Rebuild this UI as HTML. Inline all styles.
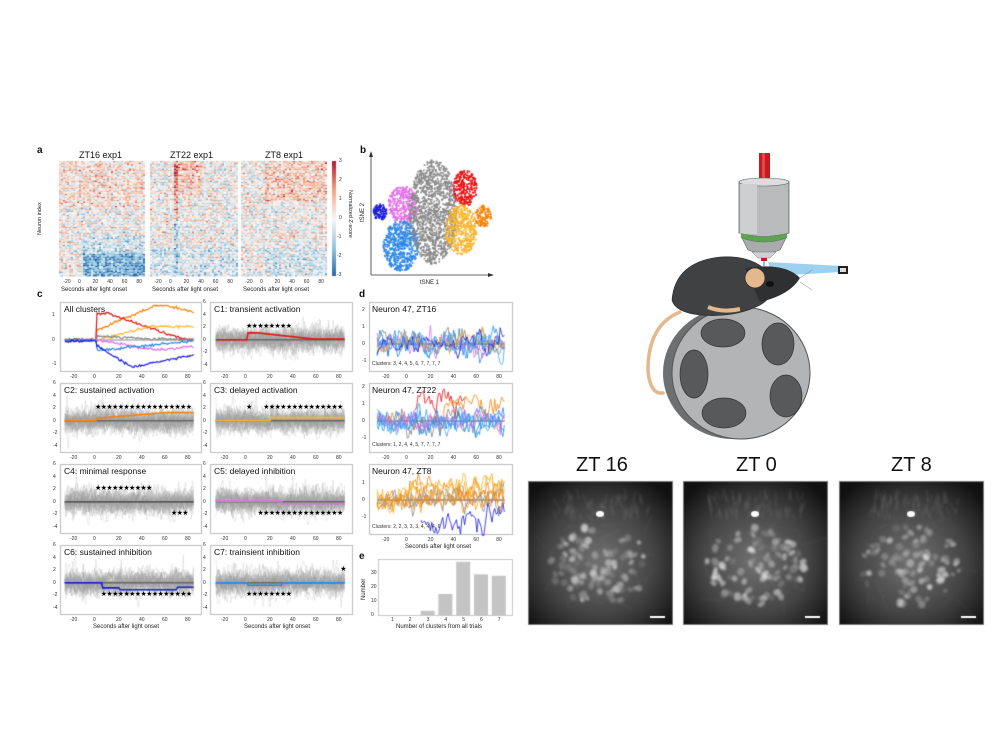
<!DOCTYPE html>
<html><head><meta charset="utf-8">
<style>
html,body{margin:0;padding:0;background:#fff;}
#wrap{position:relative;width:1000px;height:750px;overflow:hidden;font-family:"Liberation Sans",sans-serif;color:#111;}
canvas{position:absolute;left:0;top:0;}
.t{position:absolute;white-space:nowrap;line-height:1;}
.L{font-weight:bold;font-size:10px;}
.pt{font-size:8.5px;}
.tk{font-size:5px;color:#333;}
.xl{font-size:6px;color:#222;}
.zt{font-size:20px;color:#111;}
.st{font-family:"DejaVu Sans",sans-serif;font-size:7px;letter-spacing:-0.6px;color:#000;}
svg{position:absolute;left:0;top:0;}
</style></head><body>
<div id="wrap">
<canvas id="c" width="1000" height="750"></canvas>
<svg width="1000" height="750" viewBox="0 0 1000 750">
 <line x1="371" y1="275" x2="371" y2="155" stroke="#333" stroke-width="0.8"/>
 <polygon points="371,151 369,157 373,157" fill="#333"/>
 <line x1="371" y1="275" x2="490" y2="275" stroke="#333" stroke-width="0.8"/>
 <polygon points="494,275 488,273 488,277" fill="#333"/>
 <path d="M680,312 Q648,325 648,370 Q650,395 663,393" fill="none" stroke="#e2b88c" stroke-width="3.5" stroke-linecap="round"/>
 <ellipse cx="733" cy="373" rx="70" ry="66" fill="#6d6f71"/>
 <ellipse cx="741" cy="373" rx="69" ry="66" fill="#b2b4b6" stroke="#555" stroke-width="1"/>
 <g fill="#58595b" stroke="#333" stroke-width="0.7">
  <ellipse cx="723" cy="333" rx="22" ry="14"/>
  <ellipse cx="778" cy="344" rx="16" ry="21"/>
  <ellipse cx="694" cy="374" rx="14" ry="24"/>
  <ellipse cx="786" cy="396" rx="16" ry="21"/>
  <ellipse cx="724" cy="413" rx="22" ry="15"/>
 </g>
 <rect x="759" y="153" width="11" height="30" fill="#c8191e"/>
 <rect x="762" y="153" width="3" height="30" fill="#e0474b"/>
 <path d="M739,182 L789,182 L789,233 Q764,240 739,233 Z" fill="#b8babc" stroke="#666" stroke-width="0.8"/>
 <ellipse cx="764" cy="182" rx="25" ry="4" fill="#ddd" stroke="#666" stroke-width="0.6"/>
 <rect x="740" y="184" width="17" height="50" fill="#cdcfd1"/>
 <path d="M741,233 Q764,241 787,233 L787,238 Q764,246 741,238 Z" fill="#5aa64c"/>
 <path d="M742,238 Q764,246 786,238 L780,250 Q764,256 748,250 Z" fill="#a9abad" stroke="#666" stroke-width="0.6"/>
 <path d="M752,252 L776,252 L770,258 L758,258 Z" fill="#cfd1d3" stroke="#777" stroke-width="0.5"/>
 <rect x="761" y="258" width="6" height="3" fill="#c8191e"/>
 <line x1="764" y1="261" x2="764" y2="266" stroke="#5ab0e8" stroke-width="1.5"/>
 <polygon points="768,262 842,266 842,272 772,276" fill="#7ec0ea" opacity="0.75"/>
 <rect x="838" y="266" width="10" height="8" fill="#222"/>
 <rect x="840" y="268" width="6" height="4" fill="#ddd"/>
 <path d="M672,300 Q675,262 720,257 Q755,255 770,275 Q778,295 760,305 Q735,318 700,315 Q675,312 672,300Z" fill="#404143" stroke="#222" stroke-width="0.6"/>
 <path d="M745,268 Q785,262 800,278 Q790,295 760,302 Z" fill="#2f3032"/>
 <ellipse cx="755" cy="278" rx="10" ry="10" fill="#e2b88c" stroke="#333" stroke-width="0.8"/>
 <ellipse cx="770" cy="284" rx="4" ry="3" fill="#111"/>
 <path d="M708,307 Q722,313 740,309" stroke="#e2b88c" stroke-width="4" fill="none"/>
 <path d="M800,278 L812,270 M800,282 L812,290" stroke="#777" stroke-width="0.5"/>
</svg>
<div class="t L" style="left:37px;top:146px">a</div>
<div class="t pt" style="left:79px;top:151px;font-size:9px">ZT16 exp1</div>
<div class="t pt" style="left:170px;top:151px;font-size:9px">ZT22 exp1</div>
<div class="t pt" style="left:265px;top:151px;font-size:9px">ZT8 exp1</div>
<div class="t xl" style="left:38px;top:235px;transform:rotate(-90deg);transform-origin:0 0;font-size:5.5px">Neuron index</div>
<div class="t xl" style="left:352px;top:190px;transform:rotate(90deg);transform-origin:0 0;font-size:5.5px">Normalized Z-score</div>
<div class="t tk" style="left:339px;top:159px">3</div>
<div class="t tk" style="left:339px;top:178px">2</div>
<div class="t tk" style="left:339px;top:197px">1</div>
<div class="t tk" style="left:339px;top:216px">0</div>
<div class="t tk" style="left:337px;top:235px">-1</div>
<div class="t tk" style="left:337px;top:254px">-2</div>
<div class="t tk" style="left:337px;top:273px">-3</div>
<div id="hmt"></div>
<div class="t L" style="left:360px;top:146px">b</div>
<div class="t xl" style="left:360px;top:222px;transform:rotate(-90deg);transform-origin:0 0">tSNE 2</div>
<div class="t xl" style="left:420px;top:280px">tSNE 1</div>
<div class="t L" style="left:37px;top:290px">c</div>
<div class="t L" style="left:359px;top:290px">d</div>
<div class="t L" style="left:359px;top:552px">e</div>
<div id="ct"></div>
<div class="t xl" style="left:93px;top:624px">Seconds after light onset</div>
<div class="t xl" style="left:244px;top:624px">Seconds after light onset</div>
<div class="t xl" style="left:405px;top:544px">Seconds after light onset</div>
<div class="t xl" style="left:396px;top:624px">Number of clusters from all trials</div>
<div class="t xl" style="left:361px;top:600px;transform:rotate(-90deg);transform-origin:0 0">Number</div>
<div class="t zt" style="left:576px;top:455px">ZT 16</div>
<div class="t zt" style="left:736px;top:455px">ZT 0</div>
<div class="t zt" style="left:891px;top:455px">ZT 8</div>
</div>
<script>
var seed=12345;function R(){seed=(seed*16807)%2147483647;return (seed-1)/2147483646;}
function G(){return (R()+R()+R()+R()-2)*1.2;}
var cv=document.getElementById('c'),x=cv.getContext('2d');
function add(par,cls,l,t,s,st){var d=document.createElement('div');d.className='t '+cls;d.style.left=l+'px';d.style.top=t+'px';if(st)d.style.cssText+=st;d.textContent=s;document.getElementById(par).appendChild(d);}
function rdbu(v){v=Math.max(-3,Math.min(3,v))/3;var r,g,b;
 if(v>=0){if(v<0.5){var k=v*2;r=247+(244-247)*k;g=247+(165-247)*k;b=247+(130-247)*k;}else{var k=(v-0.5)*2;r=244+(178-244)*k;g=165+(24-165)*k;b=130+(43-130)*k;}}
 else{var k=-v;if(k<0.5){var q=k*2;r=247+(146-247)*q;g=247+(197-247)*q;b=247+(222-247)*q;}else{var q=(k-0.5)*2;r=146+(33-146)*q;g=197+(102-197)*q;b=222+(172-222)*q;}}
 return 'rgb('+(r|0)+','+(g|0)+','+(b|0)+')';}
var hms=[[59,145,0],[150,237,1],[241,327,2]];
hms.forEach(function(h){var x0=h[0],x1=h[1],z=x0+22;
 for(var yy=161;yy<276;yy+=1.5)for(var xx=x0;xx<x1;xx+=2){
  var t=(xx-z)/0.73,fr=(yy-161)/115,v=G()*1.1;
  if(h[2]==0){ if(t>0&&fr>0.8)v-=1.8; else if(t>0&&fr>0.65)v-=0.7; if(fr<0.4)v+=0.4;}
  if(h[2]==1){ if(t>0&&t<40&&fr<0.3)v+=0.9-fr; if(fr>0.75)v-=0.5; if(Math.abs(t-3)<3)v+=(fr<0.5?1.2:-1);}
  if(h[2]==2){ if(t>0&&fr<0.35)v+=0.8; if(fr>0.75&&t>0)v-=0.5;}
  x.fillStyle=rdbu(v);x.fillRect(xx,yy,2,1.5);}
 [-20,0,20,40,60,80].forEach(function(s){add('hmt','tk',z+s*0.73-3,280,s);});
 add('hmt','xl',x0+2,287,'Seconds after light onset','font-size:6px');
});
for(var i=0;i<115;i++){x.fillStyle=rdbu(3-6*i/115);x.fillRect(332,161+i,4,1);}
var cl=[['#1a1adf',380,212,7,8,110],['#e36ee8',403,205,15,19,330],['#2b86e8',401,246,18,25,560],['#8a8a8a',433,212,24,52,1300],['#e81010',465,188,12,18,260],['#f7b42b',461,230,16,25,460],['#f5820a',483,216,8,11,130]];
cl.forEach(function(c){x.fillStyle=c[0];for(var i=0;i<c[5];i++){var a=R()*6.283,r=Math.sqrt(R());x.fillRect(c[1]+Math.cos(a)*r*c[3]-0.8,c[2]+Math.sin(a)*r*c[4]-0.8,1.7,1.7);}});
function frame(x0,y0,x1,y1){x.strokeStyle='#bbb';x.lineWidth=1;x.strokeRect(x0+.5,y0+.5,x1-x0,y1-y0);}
var cols=[[60,201,97],[210,352,248]],rows=[[302,371],[383,452],[464,533],[545,614]];
var titles=[['All clusters','C1: transient activation'],['C2: sustained activation','C3: delayed activation'],['C4: minimal response','C5: delayed inhibition'],['C6: sustained inhibition','C7: trainsient inhibition']];
var means=[[null,['#e81010',function(t){return t<0?0:t<8?1.1:Math.max(0.1,1.1-(t-8)*0.02)}]],
 [['#f5820a',function(t){return t<0?0:Math.min(1.3,0.4+t*0.015)}],['#f7b42b',function(t){return t<20?0:0.5}]],
 [['#555',function(t){return 0}],['#e36ee8',function(t){return t<30?0.1:-0.3}]],
 [['#1a1adf',function(t){return t<5?0:t<20?-0.8:t<70?-1.1:-0.7}],['#2b86e8',function(t){return t<0?0:t<30?-0.4:0}]]];
var stars=[[null,[[0,40,2]]],[[[0,85,2]],[[0,0,2],[15,85,2]]],[[[0,48,2],[66,82,-2]],[[10,85,-2]]],[[[5,85,-2]],[[0,42,-2],[82,82,2]]]];
function yS(r,v){return r[0]+(6-v)*6.3;}
for(var ri=0;ri<4;ri++)for(var ci=0;ci<2;ci++){
 var c=cols[ci],r=rows[ri];frame(c[0],r[0],c[1],r[1]);
 var ox=c[2],tx=function(t){return ox+t*1.15;};
 if(ri==0&&ci==0){
  var yy=function(v){return 340-v*24.5;};
  x.strokeStyle='#888';x.lineWidth=1;x.beginPath();x.moveTo(tx(-28),yy(0));x.lineTo(tx(84),yy(0));x.stroke();
  var L=[['#f5820a',function(t){return t<0?0:Math.min(1.4,0.4+t*0.02)-(t>60?(t-60)*0.01:0)}],['#e81010',function(t){return t<0?0:t<8?1.1:Math.max(0.05,1.1-(t-8)*0.016)}],['#f7b42b',function(t){return t<0?0:Math.min(0.55,t*0.012)}],['#888',function(t){return t<0?0:Math.max(0,0.15-t*0.002)}],['#e36ee8',function(t){return t<0?0:-Math.min(0.4,t*0.008)+(t>60?(t-60)*0.006:0)}],['#2b86e8',function(t){return t<0?0:t<10?-0.4:-0.4+(t-10)*0.005}],['#1a1adf',function(t){return t<0?-0.05:t<30?-0.25-t*0.028:-1.1+(t-30)*0.009}]];
  L.forEach(function(l){x.strokeStyle=l[0];x.lineWidth=1.2;x.beginPath();for(var t=-28;t<=84;t+=1){var v=l[1](t)+G()*0.04;t==-28?x.moveTo(tx(t),yy(v)):x.lineTo(tx(t),yy(v));}x.stroke();});
  [[1,315],[0,340],[-1,364]].forEach(function(a){add('ct','tk',c[0]-8,a[1]-2,a[0]);});
 } else {
  x.lineWidth=0.6;
  for(var k=0;k<45;k++){x.strokeStyle='rgba(160,160,160,0.35)';x.beginPath();var v=0,a=0.6+R()*0.8;for(var t=-28;t<=84;t+=1){v=v*0.6+G()*a;var vv=v;if(R()<0.01)vv+=3*R();t==-28?x.moveTo(tx(t),yS(r,vv)):x.lineTo(tx(t),yS(r,vv));}x.stroke();}
  x.strokeStyle='#666';x.lineWidth=1.5;x.beginPath();x.moveTo(tx(-28),yS(r,0));x.lineTo(tx(84),yS(r,0));x.stroke();
  var m=means[ri][ci];x.strokeStyle=m[0];x.lineWidth=1.6;x.beginPath();for(var t=-28;t<=84;t+=1){var v=m[1](t);t==-28?x.moveTo(tx(t),yS(r,v)):x.lineTo(tx(t),yS(r,v));}x.stroke();
  stars[ri][ci].forEach(function(q){var n=Math.max(1,Math.round((q[1]-q[0])*1.15/5.8));var str='';for(var i=0;i<n;i++)str+='\u2605';add('ct','st',tx(q[0])-2,yS(r,q[2])-4,str);});
  [6,4,2,0,-2,-4].forEach(function(v){add('ct','tk',c[0]-7,yS(r,v)-2,v);});
 }
 add('ct','pt',c[0]+4,r[0]+3,titles[ri][ci]);
 [-20,0,20,40,60,80].forEach(function(s){add('ct','tk',ox+s*1.15-4,r[1]+4,s);});
}
var drows=[[302,371,344,'Neuron 47, ZT16','Clusters: 3, 4, 4, 5, 6, 7, 7, 7, 7'],[383,452,421,'Neuron 47, ZT22','Clusters: 1, 2, 4, 4, 5, 7, 7, 7, 7'],[464,534,500,'Neuron 47, ZT8','Clusters: 2, 2, 3, 3, 3, 4, 4, 4, 6']];
var dc=[['#2b86e8','#2b86e8','#1a9be8','#e36ee8','#888','#f7b42b','#1a1adf','#4aa0ff'],['#2b86e8','#e81010','#f5820a','#888','#2b86e8','#1a9be8','#e36ee8','#4aa0ff'],['#f7b42b','#f5820a','#888','#f7b42b','#1a1adf','#f5a020','#999','#f5820a']];
drows.forEach(function(d,di){frame(369,d[0],512,d[1]);var tx=function(t){return 409+t*1.14;},yy=function(v){return d[2]-v*17;};
 x.strokeStyle='#888';x.lineWidth=1.5;x.beginPath();x.moveTo(tx(-28),yy(0));x.lineTo(tx(84),yy(0));x.stroke();
 dc[di].forEach(function(col,k){x.strokeStyle=col;x.lineWidth=0.8;x.beginPath();var v=0,first=true;for(var t=-28;t<=84;t+=1.2){v=v*0.5+G()*0.45;var base=0;
  if(di==1&&k==1){if(t<5||t>50)continue;base=1.2;}if(di==1&&k==2&&t>30)base=1;
  if(di==2&&(k==0||k==1||k==3)&&t>0)base=0.7;if(di==2&&k==4){if(t<10)continue;base=-1.3+(t>60?(t-60)*0.04:0);}
  var vv=base+v;if(first){x.moveTo(tx(t),yy(vv));first=false;}else x.lineTo(tx(t),yy(vv));}x.stroke();});
 add('ct','pt',372,d[0]+3,d[3]);add('ct','tk',372,d[1]-9,d[4],'font-size:5px');
 [-20,0,20,40,60,80].forEach(function(s){add('ct','tk',tx(s)-4,d[1]+4,s);});
 [2,1,0,-1].forEach(function(v){var y=yy(v);if(y>d[0]+2&&y<d[1]-2)add('ct','tk',362,y-2,v);});
});
x.strokeStyle='#bbb';x.strokeRect(378.5,559.5,134,56);
[[3,3],[4,15],[5,38],[6,29],[7,28]].forEach(function(b){var cx=392+(b[0]-1)*17.8;x.fillStyle='#c4c4c4';x.fillRect(cx-7,615-b[1]*1.4,14,b[1]*1.4);});
for(var i=1;i<=7;i++)add('ct','tk',392+(i-1)*17.8-1,618,i);
[[0,615],[10,601],[20,587],[30,573]].forEach(function(a){add('ct','tk',371,a[1]-2,a[0]);});
[[528,0],[683,1],[839,2]].forEach(function(m){var x0=m[0],y0=481,w=144,h=143;
 x.save();x.beginPath();x.rect(x0,y0,w,h);x.clip();
 x.fillStyle='#111';x.fillRect(x0,y0,w,h);
 var g=x.createRadialGradient(x0+72,y0+80,5,x0+72,y0+80,95);g.addColorStop(0,'#6e6e6e');g.addColorStop(0.55,'#444');g.addColorStop(1,'#111');x.fillStyle=g;x.fillRect(x0,y0,w,h);
 x.filter='blur(1.2px)';
 for(var i=0;i<90;i++){var a=R()*6.28,rr=Math.sqrt(R())*50;var cx=x0+72+Math.cos(a)*rr,cy=y0+85+Math.sin(a)*rr*0.8;var b=140+R()*115;x.fillStyle='rgba('+(b|0)+','+(b|0)+','+(b|0)+','+(0.25+R()*0.45)+')';x.beginPath();x.ellipse(cx,cy,2+R()*2.5,2+R()*2,R()*3,0,6.28);x.fill();}
 x.strokeStyle='rgba(190,190,190,0.3)';x.lineWidth=0.7;for(var i=0;i<70;i++){var cx=x0+25+R()*95,cy=y0+18+R()*22;x.beginPath();x.moveTo(cx,cy);x.lineTo(cx+G()*3,cy-6-R()*6);x.stroke();}
 for(var i=0;i<40;i++){x.strokeStyle='rgba(170,170,170,0.2)';x.beginPath();var cx=x0+20+R()*100,cy=y0+40+R()*80;x.moveTo(cx,cy);x.lineTo(cx+G()*20,cy+G()*20);x.stroke();}
 x.filter='none';
 x.fillStyle='#fff';x.beginPath();x.ellipse(x0+72,y0+33,4,3,0,0,6.28);x.fill();
 x.fillRect(x0+w-22,y0+h-8,15,2);
 x.restore();x.strokeStyle='#777';x.lineWidth=1;x.strokeRect(x0+.5,y0+.5,w,h);});
</script>
</body></html>
